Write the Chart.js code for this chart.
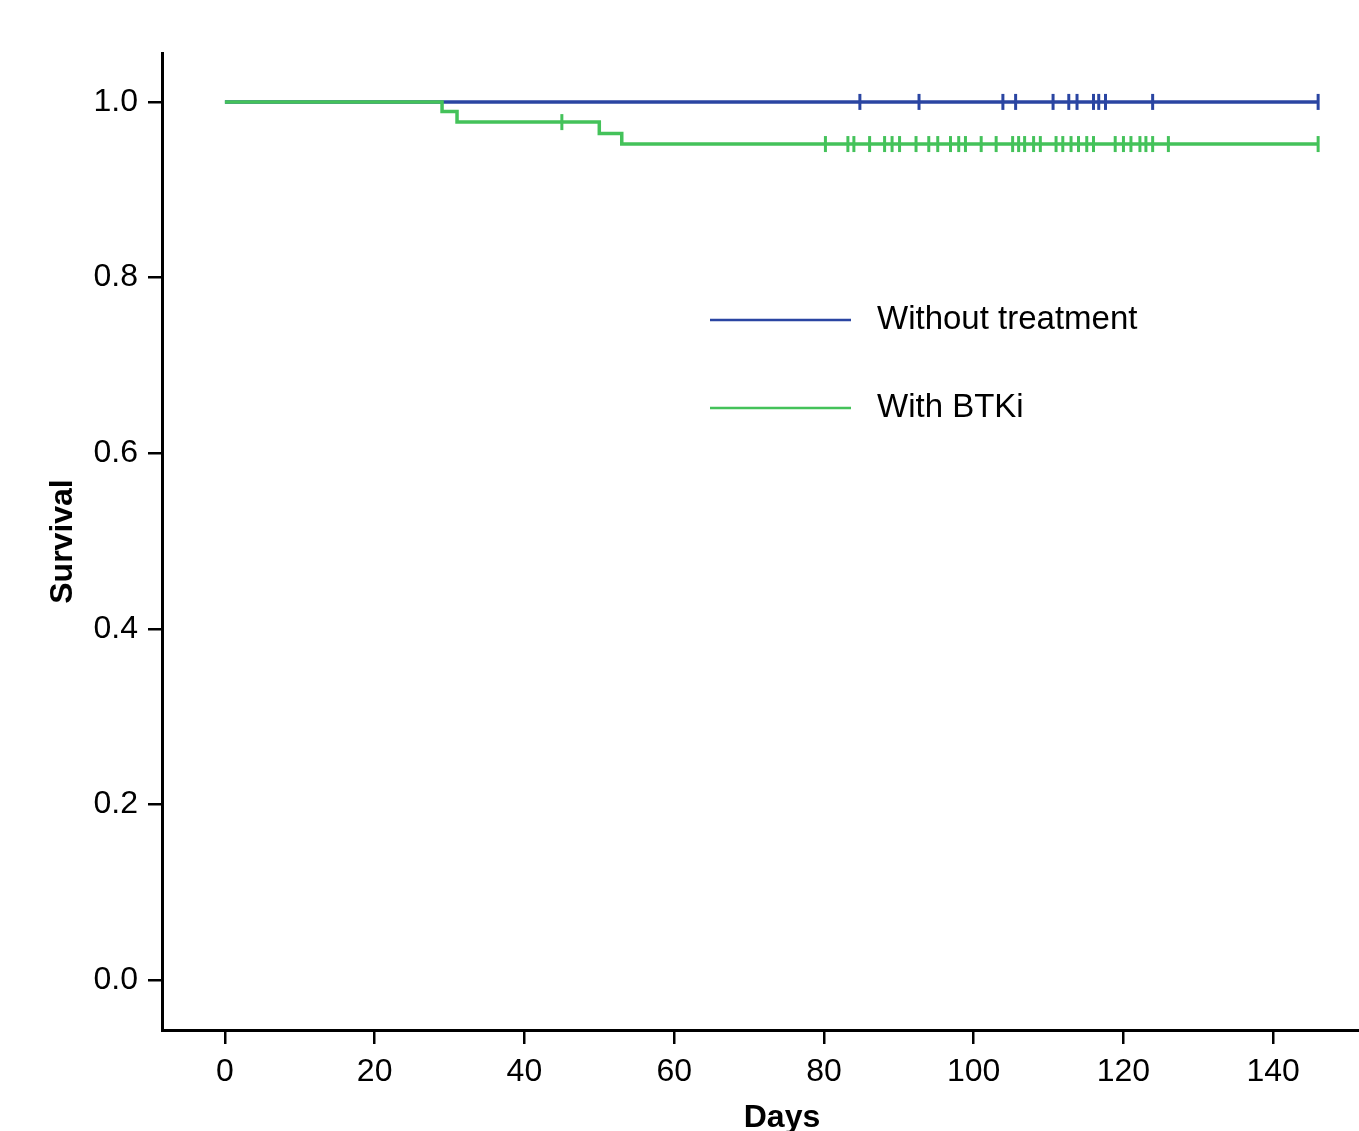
<!DOCTYPE html>
<html>
<head>
<meta charset="utf-8">
<script src="https://cdn.jsdelivr.net/npm/chart.js@4"></script>
<style>
  html, body { margin: 0; padding: 0; overflow: hidden; background: #fff; }
  #wrap { width: 1413px; height: 1137px; }
</style>
</head>
<body>
<div id="wrap"><canvas id="myChart"></canvas></div>
<script>
// Tick labels
let xTicks = [0, 20, 40, 60, 80, 100, 120, 140];
let yTicks = [0, 0.2, 0.4, 0.6, 0.8, 1.0];

// Without treatment: no events, censored at
let blueCensorDays = [84.8, 92.7, 103.9, 105.6, 110.6, 112.7, 113.8, 116.0, 116.7, 117.6, 123.9, 146];

// With BTKi: events (day, survival after the drop) and censored days
let greenEventDays = [29, 31, 50, 53];
let greenEventSurv = [0.989, 0.977, 0.964, 0.952];
let greenCensorDays = [45, 80.2, 83.2, 84.0, 86.1, 88.1, 89.1, 90.1, 92.3, 94.0, 95.2, 96.9, 98.0,
                       98.9, 101.0, 103.0, 105.2, 106.0, 106.8, 108.0, 108.9, 111.0, 111.9, 113.0,
                       114.0, 115.1, 116.0, 118.9, 120.0, 121.0, 122.2, 123.0, 123.9, 126.0, 146];

let blue = '#2a45a2';
let green = '#44c25a';

// build a Kaplan-Meier step series; censored points get a tick mark
function kmPoints(eventDays, eventSurv, censorDays) {
    let pts = [{x: 0, y: 1, c: false}];
    eventDays.forEach((d, i) => pts.push({x: d, y: eventSurv[i], c: false}));
    censorDays.forEach(d => pts.push({x: d, y: null, c: true}));
    pts.sort((a, b) => a.x - b.x || (a.c - b.c));
    let s = 1;
    pts.forEach(p => { if (p.c) p.y = s; else s = p.y; });
    return pts;
}

let bluePts = kmPoints([], [], blueCensorDays);
let greenPts = kmPoints(greenEventDays, greenEventSurv, greenCensorDays);

let legendPlugin = {
    id: 'kmLegend',
    afterDatasetsDraw(chart) {
        let ctx = chart.ctx;
        let items = [
            {label: 'Without treatment', color: blue},
            {label: 'With BTKi', color: green}
        ];
        ctx.save();
        items.forEach((it, i) => {
            let y = 320 + i * 88;
            ctx.strokeStyle = it.color;
            ctx.lineWidth = 2.5;
            ctx.beginPath();
            ctx.moveTo(710, y);
            ctx.lineTo(851, y);
            ctx.stroke();
            ctx.fillStyle = '#000';
            ctx.font = "33px 'Liberation Sans', Arial, sans-serif";
            ctx.textBaseline = 'middle';
            ctx.fillText(it.label, 877, y);
        });
        ctx.restore();
    }
};

Chart.defaults.font.family = "'Liberation Sans', Arial, sans-serif";
Chart.defaults.color = '#000';

let ctx = document.getElementById('myChart').getContext('2d');
let myChart = new Chart(ctx, {
    type: 'line',
    data: {
        datasets: [
            {
                label: 'Without treatment',
                data: bluePts,
                borderColor: blue,
                borderWidth: 3.5,
                stepped: true,
                order: 1,
                pointStyle: 'line',
                rotation: 90,
                pointRadius: bluePts.map(p => p.c ? 8 : 0),
                pointBorderColor: blue,
                pointBorderWidth: 3,
                fill: false
            },
            {
                label: 'With BTKi',
                data: greenPts,
                borderColor: green,
                borderWidth: 3.5,
                stepped: true,
                order: 0,
                pointStyle: 'line',
                rotation: 90,
                pointRadius: greenPts.map(p => p.c ? 8 : 0),
                pointBorderColor: green,
                pointBorderWidth: 3,
                fill: false
            }
        ]
    },
    options: {
        responsive: true,
        maintainAspectRatio: false,
        animation: false,
        layout: { padding: { left: 44, top: 53, right: 0, bottom: 0 } },
        plugins: {
            legend: { display: false },
            tooltip: { enabled: false }
        },
        scales: {
            x: {
                type: 'linear',
                min: -8.4,
                max: 157.2,
                afterBuildTicks: s => { s.ticks = xTicks.map(v => ({value: v})); },
                afterFit: s => { s.height = 107; },
                ticks: { font: { size: 32 }, padding: 9, callback: v => String(v) },
                grid: { drawOnChartArea: false, drawTicks: true, tickLength: 14, color: '#000', lineWidth: 2.5 },
                border: { color: '#000', width: 3 },
                title: { display: true, text: 'Days', font: { size: 32, weight: 'bold' }, padding: 0 }
            },
            y: {
                min: -0.0569,
                max: 1.0557,
                afterBuildTicks: s => { s.ticks = yTicks.map(v => ({value: v})); },
                afterFit: s => { s.width = 118; },
                ticks: { font: { size: 32 }, padding: 10, callback: v => v.toFixed(1) },
                grid: { drawOnChartArea: false, drawTicks: true, tickLength: 14, color: '#000', lineWidth: 2.5 },
                border: { color: '#000', width: 3 },
                title: { display: true, text: 'Survival', font: { size: 32, weight: 'bold' }, padding: 0 }
            }
        }
    },
    plugins: [legendPlugin]
});
</script>
</body>
</html>
